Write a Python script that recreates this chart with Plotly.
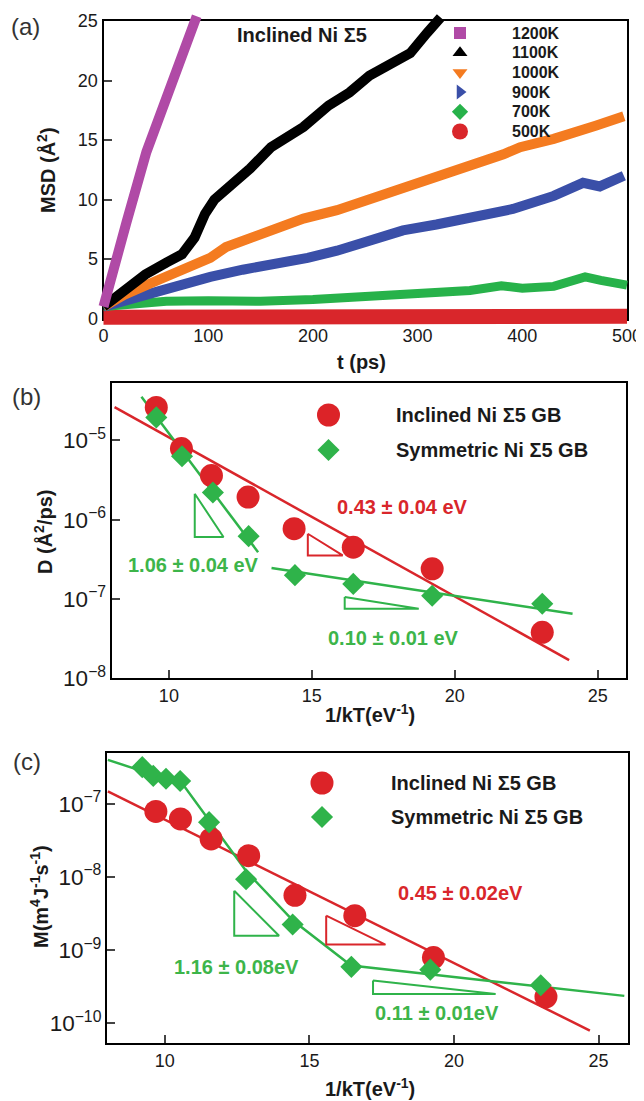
import plotly.graph_objects as go

W, H = 644, 1101
OFF = 8  # the page body margin shifts the figure by 8 px; layout pixels below are page pixels

# ======================= DATA =======================
# ---- panel (a): MSD (A^2) vs t (ps), Inclined Ni Sigma5 ----
t_1200 = [0, 10, 22, 41, 63.5, 79.5, 89]
msd_1200 = [1.0, 4.6, 8.1, 14.0, 19.6, 23.2, 25.4]
t_1100 = [0, 20, 40, 60, 75, 87, 97, 106, 120, 140, 160, 175, 191, 215, 235, 254, 274, 293, 309, 322]
msd_1100 = [1.0, 2.4, 3.7, 4.7, 5.4, 6.8, 8.8, 10.0, 11.0, 12.6, 14.4, 15.3, 16.1, 17.9, 19.0, 20.4, 21.3, 22.3, 24.0, 25.3]
t_1000 = [0, 20, 54, 78, 102, 117, 137, 160, 191, 223, 254, 286, 318, 350, 382, 398, 430, 470, 497]
msd_1000 = [1.0, 2.0, 3.3, 4.3, 5.1, 6.0, 6.6, 7.5, 8.4, 9.1, 10.0, 11.0, 11.8, 12.7, 13.8, 14.4, 15.1, 16.2, 17.0]
t_900 = [0, 20, 38, 70, 102, 133, 160, 195, 223, 254, 286, 318, 350, 391, 430, 458, 474, 497]
msd_900 = [1.0, 1.5, 2.0, 2.8, 3.5, 4.1, 4.5, 5.1, 5.7, 6.5, 7.4, 7.9, 8.5, 9.2, 10.3, 11.4, 11.1, 12.0]
t_700 = [0, 20, 60, 100, 150, 200, 250, 290, 320, 350, 380, 400, 430, 445, 460, 475, 490, 500]
msd_700 = [1.0, 1.2, 1.45, 1.5, 1.45, 1.6, 1.85, 2.05, 2.2, 2.35, 2.75, 2.55, 2.7, 3.1, 3.5, 3.2, 2.9, 2.8]
t_500 = [0, 50, 100, 150, 200, 250, 300, 350, 400, 450, 500]
msd_500 = [0.1, 0.1, 0.12, 0.12, 0.14, 0.14, 0.15, 0.16, 0.16, 0.18, 0.18]
temps_a = ["1200K", "1100K", "1000K", "900K", "700K", "500K"]

# ---- panel (b): D (A^2/ps) vs 1/kT (1/eV) ----
invkT_b_incl = [9.56, 10.44, 11.49, 12.77, 14.38, 16.45, 19.21, 23.06]
D_b_incl = [2.6e-5, 7.9e-6, 3.6e-6, 1.93e-6, 7.7e-7, 4.5e-7, 2.4e-7, 3.8e-8]
invkT_b_sym = [9.56, 10.46, 11.54, 12.79, 14.41, 16.45, 19.21, 23.06]
D_b_sym = [1.95e-5, 6.3e-6, 2.2e-6, 6.2e-7, 2.0e-7, 1.55e-7, 1.1e-7, 8.7e-8]
fitb_incl_x = [8.10, 24.0]
fitb_incl_logD = [-4.58, -7.77]
fitb_symhi_x = [9.04, 13.12]
fitb_symhi_logD = [-4.45, -6.41]
fitb_symlo_x = [13.59, 24.12]
fitb_symlo_logD = [-6.61, -7.185]
trib_g1_x = [10.905, 10.905, 11.91, 10.905]
trib_g1_logD = [-5.672, -6.219, -6.219, -5.672]
trib_r_x = [14.86, 14.86, 16.08, 14.86]
trib_r_logD = [-6.177, -6.45, -6.45, -6.177]
trib_g2_x = [16.15, 16.15, 18.74, 16.15]
trib_g2_logD = [-6.976, -7.123, -7.123, -6.976]

# ---- panel (c): M (m^4 J^-1 s^-1) vs 1/kT (1/eV) ----
invkT_c_incl = [9.69, 10.54, 11.60, 12.90, 14.50, 16.57, 19.29, 23.18]
M_c_incl = [7.85e-8, 6.2e-8, 3.3e-8, 1.95e-8, 5.6e-9, 2.95e-9, 7.9e-10, 2.3e-10]
invkT_c_sym = [9.22, 9.60, 10.04, 10.53, 11.53, 12.81, 14.42, 16.45, 19.18, 23.0]
M_c_sym = [3.16e-7, 2.4e-7, 2.19e-7, 2.04e-7, 5.6e-8, 9.3e-9, 2.24e-9, 5.9e-10, 5.4e-10, 3.3e-10]
fitc_incl_x = [8.03, 24.7]
fitc_incl_logM = [-6.83, -10.10]
fitc_sym_x = [8.03, 8.95, 10.54, 11.5, 12.83, 14.44, 16.44, 25.89]
fitc_sym_logM = [-6.40, -6.52, -6.69, -7.21, -7.93, -8.60, -9.21, -9.626]
tric_g1_x = [12.40, 12.40, 13.95, 12.40]
tric_g1_logM = [-8.19, -8.805, -8.805, -8.19]
tric_r_x = [15.58, 15.58, 17.63, 15.58]
tric_r_logM = [-8.53, -8.925, -8.925, -8.53]
tric_g2_x = [17.20, 17.20, 21.44, 17.20]
tric_g2_logM = [-9.415, -9.60, -9.60, -9.415]

# ======================= STYLE / GEOMETRY =======================
FONT = "Liberation Sans, Arial, Helvetica, sans-serif"
TXT = "#1a1a1a"
C_PURPLE = "#b04aa6"
C_BLACK = "#000000"
C_ORANGE = "#f47b20"
C_BLUE = "#3a4fa8"
C_GREEN = "#27b24a"
C_RED = "#d9262b"
M_RED = "#dc2328"
M_GREEN = "#2fb34a"
T_GREEN = "#3db54a"

FA = (103.5, 627.0, 21.0, 318.5)
FB = (111.7, 626.3, 383.3, 678.3)
FC = (107.0, 627.5, 752.5, 1043.0)
RA = ([0, 500], [0, 25])
RB = ([8, 26], [-8, -4.28])
RC = ([8, 26], [-10.27, -6.30])
EXT = 12.0


def pw(px):
    return min(1.0, max(0.0, (px - OFF) / W))


def ph(py):
    return min(1.0, max(0.0, 1 - (py - OFF) / H))


def lg(vals):
    return [10 ** v for v in vals]


def px2data(px, py, frame, rng, logy=False):
    l, r, t, b = frame
    xr, yr = rng
    x = xr[0] + (px - l) / (r - l) * (xr[1] - xr[0])
    v = yr[0] + (b - py) / (b - t) * (yr[1] - yr[0])
    return x, (10 ** v if logy else v)


fig = go.Figure()

# ---------------- panel (a): frame subplot x/y first ----------------
fig.add_trace(go.Scatter(x=[None], y=[None], mode="markers", xaxis="x", yaxis="y",
                         showlegend=False, hoverinfo="skip"))

# curves on x2/y2 (invisible, slightly larger area so thick bands are not clipped)
pxs = (FA[1] - FA[0]) / 500.0
pys = (FA[3] - FA[2]) / 25.0
ext_l = min(EXT, FA[0] - OFF)
ext_r = min(EXT, OFF + W - FA[1])
ext_t = min(EXT, FA[2] - OFF - 0.5)
ext_b = min(EXT, OFF + H - FA[3])
RA_EXT = ([-ext_l / pxs, 500 + ext_r / pxs], [-ext_b / pys, 25 + ext_t / pys])
FA_EXT = (FA[0] - ext_l, FA[1] + ext_r, FA[2] - ext_t, FA[3] + ext_b)

curves_a = [
    (t_500, msd_500, C_RED, 15),
    (t_700, msd_700, C_GREEN, 9),
    (t_900, msd_900, C_BLUE, 10),
    (t_1000, msd_1000, C_ORANGE, 10),
    (t_1100, msd_1100, C_BLACK, 10),
    (t_1200, msd_1200, C_PURPLE, 10),
]
for tx, ty, col, wd in curves_a:
    fig.add_trace(go.Scatter(x=tx, y=ty, mode="lines", line=dict(color=col, width=wd),
                             xaxis="x2", yaxis="y2", showlegend=False, hoverinfo="skip"))

LEG_A_X, LEG_A_Y0, LEG_A_DY, LEG_A_TX = 460, 33, 19.7, 510
leg_a_sym = [("square", 12, C_PURPLE), ("triangle-up", 13, C_BLACK), ("triangle-down", 13, C_ORANGE),
             ("triangle-right", 13, C_BLUE), ("diamond", 12.5, C_GREEN), ("circle", 16, C_RED)]
for i, (sym, sz, col) in enumerate(leg_a_sym):
    gx, gy = px2data(LEG_A_X, LEG_A_Y0 + i * LEG_A_DY, FA, RA)
    fig.add_trace(go.Scatter(x=[gx], y=[gy], mode="markers", cliponaxis=False,
                             marker=dict(symbol=sym, size=sz, color=col),
                             xaxis="x2", yaxis="y2", showlegend=False, hoverinfo="skip"))


def add_line(x, logy, col, wd, ax, ay):
    fig.add_trace(go.Scatter(x=x, y=lg(logy), mode="lines", line=dict(color=col, width=wd),
                             xaxis=ax, yaxis=ay, showlegend=False, hoverinfo="skip"))


def add_pts(x, y, sym, sz, col, ax, ay):
    fig.add_trace(go.Scatter(x=x, y=y, mode="markers", cliponaxis=False,
                             marker=dict(symbol=sym, size=sz, color=col),
                             xaxis=ax, yaxis=ay, showlegend=False, hoverinfo="skip"))


# ---------------- panel (b) ----------------
add_line(fitb_incl_x, fitb_incl_logD, C_RED, 2.5, "x3", "y3")
add_line(fitb_symhi_x, fitb_symhi_logD, M_GREEN, 2.5, "x3", "y3")
add_line(fitb_symlo_x, fitb_symlo_logD, M_GREEN, 2.5, "x3", "y3")
add_line(trib_g1_x, trib_g1_logD, M_GREEN, 2, "x3", "y3")
add_line(trib_r_x, trib_r_logD, C_RED, 2, "x3", "y3")
add_line(trib_g2_x, trib_g2_logD, M_GREEN, 2, "x3", "y3")
add_pts(invkT_b_incl, D_b_incl, "circle", 23, M_RED, "x3", "y3")
add_pts(invkT_b_sym, D_b_sym, "diamond", 17, M_GREEN, "x3", "y3")
LEG_B = dict(x=328.5, y1=415, y2=450, tx=394)
gx, gy = px2data(LEG_B["x"], LEG_B["y1"], FB, RB, logy=True)
add_pts([gx], [gy], "circle", 23, M_RED, "x3", "y3")
gx, gy = px2data(LEG_B["x"], LEG_B["y2"], FB, RB, logy=True)
add_pts([gx], [gy], "diamond", 17, M_GREEN, "x3", "y3")

# ---------------- panel (c) ----------------
add_line(fitc_incl_x, fitc_incl_logM, C_RED, 2.5, "x4", "y4")
add_line(fitc_sym_x, fitc_sym_logM, M_GREEN, 2.5, "x4", "y4")
add_line(tric_g1_x, tric_g1_logM, M_GREEN, 2, "x4", "y4")
add_line(tric_r_x, tric_r_logM, C_RED, 2, "x4", "y4")
add_line(tric_g2_x, tric_g2_logM, M_GREEN, 2, "x4", "y4")
add_pts(invkT_c_incl, M_c_incl, "circle", 23, M_RED, "x4", "y4")
add_pts(invkT_c_sym, M_c_sym, "diamond", 17, M_GREEN, "x4", "y4")
LEG_C = dict(x=322, y1=783, y2=817, tx=389)
gx, gy = px2data(LEG_C["x"], LEG_C["y1"], FC, RC, logy=True)
add_pts([gx], [gy], "circle", 23, M_RED, "x4", "y4")
gx, gy = px2data(LEG_C["x"], LEG_C["y2"], FC, RC, logy=True)
add_pts([gx], [gy], "diamond", 17, M_GREEN, "x4", "y4")

# ======================= AXES =======================
tickfont = dict(family=FONT, size=18, color=TXT)


def frame_axis(domain, rng, dtick, anchor, typ="linear"):
    d = dict(domain=domain, range=rng, anchor=anchor, type=typ,
             showline=True, linecolor="black", linewidth=2, mirror=True,
             ticks="inside", ticklen=8, tickwidth=2,
             dtick=dtick, showgrid=False, zeroline=False, tickfont=tickfont)
    if typ == "log":
        d.update(exponentformat="power")
    else:
        d.update(tick0=0)
    return d


layout = dict(
    template="none",
    width=W, height=H, margin=dict(l=0, r=0, t=0, b=0),
    paper_bgcolor="white", plot_bgcolor="rgba(0,0,0,0)", showlegend=False,
    font=dict(family=FONT, color=TXT),
    # (a) frame with ticks and labels
    xaxis=frame_axis([pw(FA[0]), pw(FA[1])], RA[0], 100, "y"),
    yaxis=frame_axis([ph(FA[3]), ph(FA[2])], RA[1], 5, "x"),
    # (a) curve area
    xaxis2=dict(domain=[pw(FA_EXT[0]), pw(FA_EXT[1])], range=RA_EXT[0],
                visible=False, anchor="y2", fixedrange=True),
    yaxis2=dict(domain=[ph(FA_EXT[3]), ph(FA_EXT[2])], range=RA_EXT[1],
                visible=False, anchor="x2", fixedrange=True),
    # (b)
    xaxis3=frame_axis([pw(FB[0]), pw(FB[1])], RB[0], 5, "y3"),
    yaxis3=frame_axis([ph(FB[3]), ph(FB[2])], RB[1], 1, "x3", typ="log"),
    # (c)
    xaxis4=frame_axis([pw(FC[0]), pw(FC[1])], RC[0], 5, "y4"),
    yaxis4=frame_axis([ph(FC[3]), ph(FC[2])], RC[1], 1, "x4", typ="log"),
)
fig.update_layout(**layout)

# ======================= TEXT =======================
anns = []


def ann(text, px, py, size, color=TXT, bold=True, angle=0, xanchor="center"):
    anns.append(dict(text=text, x=pw(px), y=ph(py), xref="paper", yref="paper",
                     xanchor=xanchor, yanchor="middle", showarrow=False, textangle=angle,
                     font=dict(family=FONT, size=size, color=color,
                               weight="bold" if bold else "normal")))


ann("(a)", 25, 26, 24, color="#333", bold=False)
ann("(b)", 26, 396, 24, color="#333", bold=False)
ann("(c)", 27, 761, 24, color="#333", bold=False)

ann("Inclined Ni Σ5", 302, 35, 20)
for i, lab in enumerate(temps_a):
    ann(lab, LEG_A_TX, LEG_A_Y0 + i * LEG_A_DY, 16, xanchor="left")
ann("t (ps)", 361, 362, 20)
ann("MSD (Å<sup>2</sup>)", 47, 170, 20, angle=-90)

ann("Inclined Ni Σ5 GB", LEG_B["tx"], LEG_B["y1"], 20, xanchor="left")
ann("Symmetric Ni Σ5 GB", LEG_B["tx"], LEG_B["y2"], 20, xanchor="left")
ann("0.43 ± 0.04 eV", 402, 507, 20, color=C_RED)
ann("1.06 ± 0.04 eV", 193, 565, 20, color=T_GREEN)
ann("0.10 ± 0.01 eV", 393, 638, 20, color=T_GREEN)
ann("D (Å<sup>2</sup>/ps)", 44, 532, 20, angle=-90)
ann("1/kT(eV<sup>-1</sup>)", 369.5, 713, 20)

ann("Inclined Ni Σ5 GB", LEG_C["tx"], LEG_C["y1"], 20, xanchor="left")
ann("Symmetric Ni Σ5 GB", LEG_C["tx"], LEG_C["y2"], 20, xanchor="left")
ann("0.45 ± 0.02eV", 460, 893, 20, color=C_RED)
ann("1.16 ± 0.08eV", 236, 967, 20, color=T_GREEN)
ann("0.11 ± 0.01eV", 437, 1013, 20, color=T_GREEN)
ann("M(m<sup>4</sup>J<sup>-1</sup>s<sup>-1</sup>)", 39, 897, 20, angle=-90)
ann("1/kT(eV<sup>-1</sup>)", 369.5, 1087, 20)

fig.update_layout(annotations=anns)

fig.write_html("out.html")
